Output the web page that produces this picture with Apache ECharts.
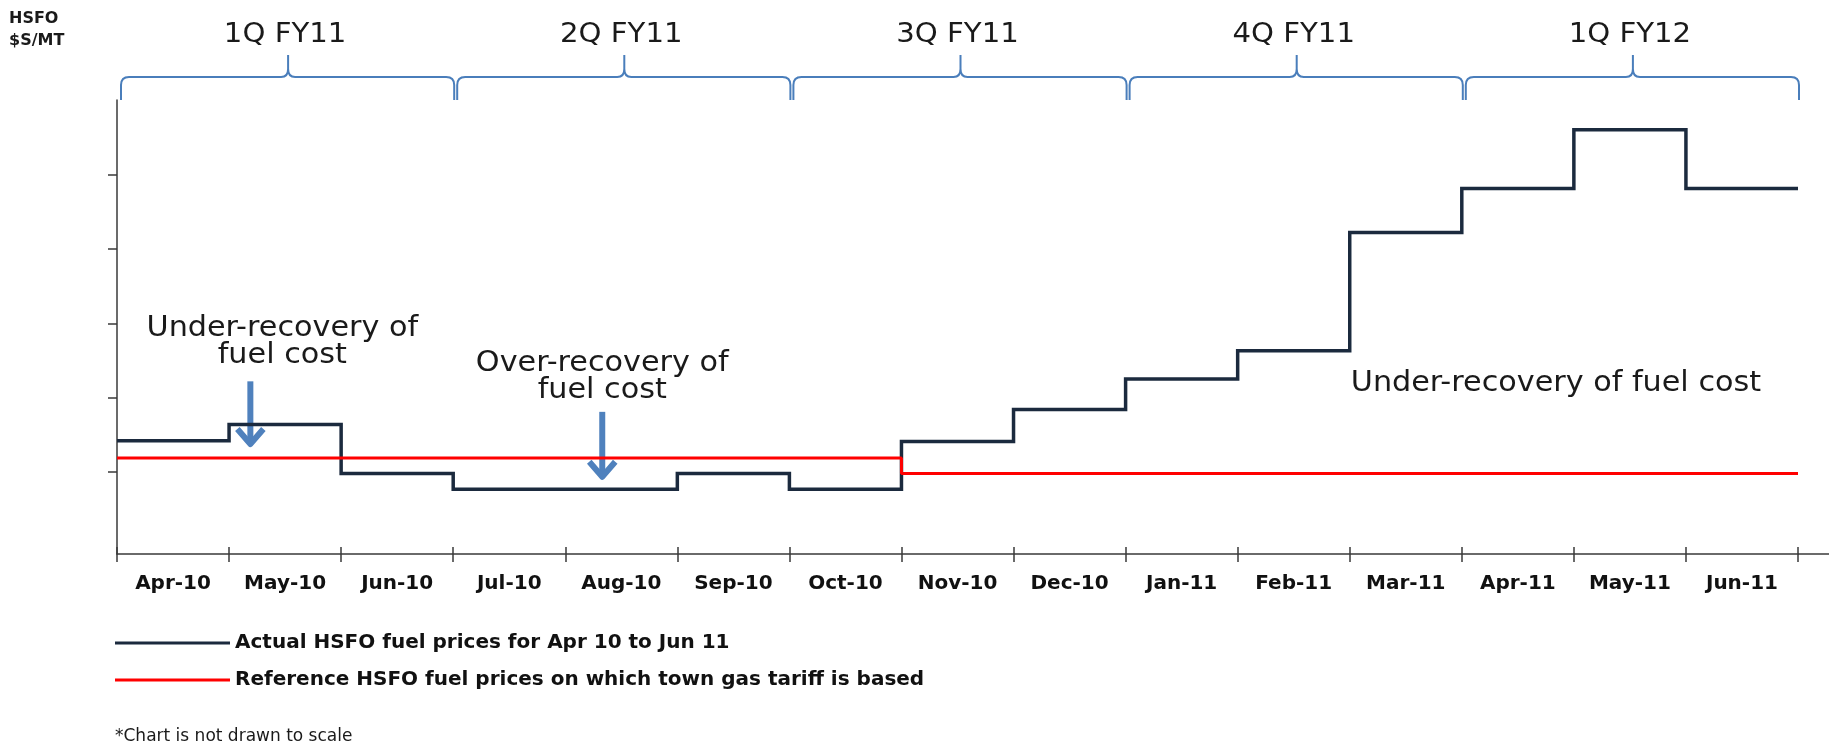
<!DOCTYPE html>
<html>
<head>
<meta charset="utf-8">
<script src="https://cdn.jsdelivr.net/npm/echarts@6/dist/echarts.min.js"></script>
<style>
html,body{margin:0;padding:0;background:#fff;}
#chart{width:1837px;height:744px;}
</style>
</head>
<body>
<div id="chart"></div>
<script>
// ---- data ----
const months = ['Apr-10','May-10','Jun-10','Jul-10','Aug-10','Sep-10','Oct-10','Nov-10','Dec-10','Jan-11','Feb-11','Mar-11','Apr-11','May-11','Jun-11'];
const actualPrices = [1.42, 1.64, 0.98, 0.77, 0.77, 0.98, 0.77, 1.41, 1.84, 2.25, 2.63, 4.22, 4.81, 5.60, 4.81];
const referencePrices = [1.19, 1.19, 1.19, 1.19, 1.19, 1.19, 1.19, 0.98, 0.98, 0.98, 0.98, 0.98, 0.98, 0.98, 0.98];
const quarters = ['1Q FY11', '2Q FY11', '3Q FY11', '4Q FY11', '1Q FY12'];
const monthsPerQuarter = 3;
const yTickValues = [1, 2, 3, 4, 5];
const seriesNames = ['Actual HSFO fuel prices for Apr 10 to Jun 11', 'Reference HSFO fuel prices on which town gas tariff is based'];
const axisTitle = 'HSFO\n$S/MT';
const footnote = '*Chart is not drawn to scale';
const annotations = [
  { text: 'Under-recovery of\nfuel cost', x: 1.475, y: 2.77 },
  { text: 'Over-recovery of\nfuel cost', x: 4.33, y: 2.30 },
  { text: 'Under-recovery of fuel cost', x: 12.84, y: 2.22 }
];
const arrows = [
  { x: 1.19, from: 2.22, to: 1.35 },
  { x: 4.33, from: 1.81, to: 0.91 }
];

// month-boundary step points: each month spans [i, i+1]
function toSteps(vals) {
  const pts = vals.map((v, i) => [i, v]);
  pts.push([vals.length, vals[vals.length - 1]]);
  return pts;
}
const quarterSpans = quarters.map((q, i) => [i * monthsPerQuarter, (i + 1) * monthsPerQuarter, i]);

const FONT = '"DejaVu Sans", sans-serif';
const Y_MIN = -0.1, Y_MAX = 6;

const chart = echarts.init(document.getElementById('chart'), null, { renderer: 'canvas' });

const option = {
  backgroundColor: '#ffffff',
  animation: false,
  title: [
    { text: axisTitle, left: 9, top: 8, padding: 0,
      textStyle: { fontFamily: FONT, fontWeight: 'bold', fontSize: 16, lineHeight: 22, color: '#1a1a1a' } },
    { text: footnote, left: 115, top: 728, padding: 0,
      textStyle: { fontFamily: FONT, fontWeight: 'normal', fontSize: 17, color: '#1a1a1a' } }
  ],
  grid: { left: 117, right: 39, top: 100, bottom: 190, containLabel: false },
  legend: {
    orient: 'vertical', left: 115, top: 633, padding: 0,
    itemWidth: 115, itemHeight: 3, itemGap: 17, icon: 'rect',
    selectedMode: false,
    textStyle: { fontFamily: FONT, fontWeight: 'bold', fontSize: 20, color: '#111' },
    data: seriesNames
  },
  xAxis: [
    { type: 'category', data: months, boundaryGap: true, position: 'bottom',
      axisLine: { show: true, onZero: false, lineStyle: { color: '#3a3a3a', width: 1.5 } },
      axisTick: { show: true, length: 8, inside: false, lineStyle: { color: '#3a3a3a', width: 1.5 } },
      axisLabel: { show: true, margin: 20, fontFamily: FONT, fontWeight: 'bold', fontSize: 20, color: '#111' },
      splitLine: { show: false } },
    { type: 'category', data: months, boundaryGap: true, position: 'bottom',
      axisLine: { show: false, onZero: false },
      axisTick: { show: true, length: 7, inside: true, lineStyle: { color: '#3a3a3a', width: 1.5 } },
      axisLabel: { show: false }, splitLine: { show: false } },
    { type: 'value', min: 0, max: months.length, show: false, position: 'bottom',
      axisLine: { onZero: false }, splitLine: { show: false } }
  ],
  yAxis: [
    { type: 'value', min: Y_MIN, max: Y_MAX,
      axisLine: { show: true, onZero: false, lineStyle: { color: '#3a3a3a', width: 1.5 } },
      axisTick: { show: true, length: 9, inside: false, customValues: yTickValues, lineStyle: { color: '#3a3a3a', width: 1.5 } },
      axisLabel: { show: false },
      splitLine: { show: false } }
  ],
  series: [
    { name: seriesNames[0], type: 'line', xAxisIndex: 2, yAxisIndex: 0, step: 'end',
      data: toSteps(actualPrices), symbol: 'none', color: '#1b2a3e',
      lineStyle: { color: '#1b2a3e', width: 3.5, join: 'miter' }, z: 3 },
    { name: seriesNames[1], type: 'line', xAxisIndex: 2, yAxisIndex: 0, step: 'end',
      data: toSteps(referencePrices), symbol: 'none', color: '#ff0000',
      lineStyle: { color: '#ff0000', width: 3 }, z: 4 },
    { name: 'quarters', type: 'custom', xAxisIndex: 2, yAxisIndex: 0, clip: false, silent: true,
      data: quarterSpans, encode: { x: [0, 1] },
      renderItem: function (params, api) {
        const a = api.coord([api.value(0), Y_MAX]);
        const b = api.coord([api.value(1), Y_MAX]);
        const idx = api.value(2);
        const yb = a[1];
        const yh = yb - 23, yp = yb - 45;
        const x0 = a[0] + 4, x1 = b[0] + 1, xm = (a[0] + b[0]) / 2 + 3;
        const d = 'M' + x0 + ',' + yb + ' L' + x0 + ',' + (yh + 8) +
          ' Q' + x0 + ',' + yh + ' ' + (x0 + 8) + ',' + yh +
          ' L' + (xm - 7) + ',' + yh + ' Q' + xm + ',' + yh + ' ' + xm + ',' + (yh - 8) +
          ' L' + xm + ',' + yp + ' L' + xm + ',' + (yh - 8) +
          ' Q' + xm + ',' + yh + ' ' + (xm + 7) + ',' + yh +
          ' L' + (x1 - 8) + ',' + yh + ' Q' + x1 + ',' + yh + ' ' + x1 + ',' + (yh + 8) +
          ' L' + x1 + ',' + yb;
        return {
          type: 'group',
          children: [
            { type: 'path', shape: { pathData: d },
              style: { fill: 'none', stroke: '#4a7ebb', lineWidth: 2 } },
            { type: 'text', x: (a[0] + b[0]) / 2, y: yb - 65, scaleX: 1.08,
              style: { text: quarters[idx], x: 0, y: 0,
                align: 'center', verticalAlign: 'middle',
                fontFamily: FONT, fontSize: 27, fill: '#1a1a1a' } }
          ]
        };
      }
    }
  ]
};
chart.setOption(option);

// annotations placed through the chart's own coordinate system
const P = (x, y) => chart.convertToPixel({ xAxisIndex: 2, yAxisIndex: 0 }, [x, y]);
const graphics = [];
annotations.forEach(function (a) {
  const p = P(a.x, a.y);
  graphics.push({ type: 'text', x: p[0], y: p[1] + 2, scaleX: 1.08, silent: true,
    style: { text: a.text, x: 0, y: 0, align: 'center', verticalAlign: 'middle',
      fontFamily: FONT, fontSize: 28, lineHeight: 27, fill: '#1a1a1a' } });
});
arrows.forEach(function (ar) {
  const t = P(ar.x, ar.from), b = P(ar.x, ar.to);
  graphics.push({ type: 'line', silent: true,
    shape: { x1: t[0], y1: t[1], x2: b[0], y2: b[1] - 4 },
    style: { stroke: '#4f81bd', lineWidth: 6 } });
  graphics.push({ type: 'polyline', silent: true,
    shape: { points: [[b[0] - 13, b[1] - 17], [b[0], b[1] - 2], [b[0] + 13, b[1] - 17]] },
    style: { stroke: '#4f81bd', lineWidth: 6, fill: 'none', lineJoin: 'round', lineCap: 'butt' } });
});
// x axis line continues past the last month
const e0 = P(months.length, Y_MIN);
graphics.push({ type: 'line', silent: true,
  shape: { x1: e0[0], y1: e0[1], x2: e0[0] + 31, y2: e0[1] },
  style: { stroke: '#3a3a3a', lineWidth: 1.5 } });
chart.setOption({ graphic: graphics });
</script>
</body>
</html>
